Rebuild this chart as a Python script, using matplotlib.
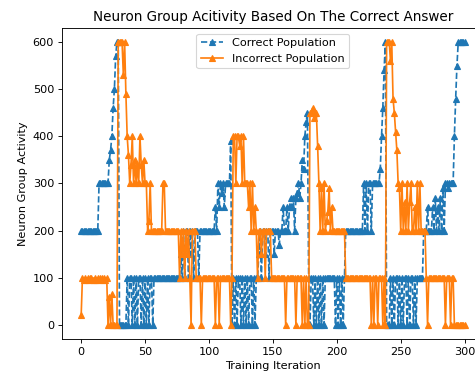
import numpy as np
import matplotlib
matplotlib.use("Agg")
import matplotlib.pyplot as plt

# Activity of each neuron group per training iteration (0..300)
iterations = list(range(301))

correct_population = [
    200, 200, 200, 200, 200, 200, 200, 200, 200, 200,
    200, 200, 200, 200, 300, 300, 300, 300, 300, 300,
    300, 300, 350, 370, 400, 460, 500, 570, 600, 600,
    0, 0, 0, 0, 0, 0, 100, 0, 100, 100,
    0, 100, 0, 100, 0, 100, 100, 0, 100, 0,
    100, 0, 100, 0, 100, 100, 0, 100, 100, 100,
    100, 100, 100, 100, 100, 100, 100, 100, 100, 100,
    100, 100, 100, 100, 100, 100, 100, 100, 150, 100,
    200, 100, 200, 200, 100, 200, 150, 200, 100, 200,
    200, 200, 100, 200, 200, 200, 200, 200, 200, 200,
    200, 200, 200, 200, 200, 250, 200, 300, 250, 300,
    280, 300, 250, 300, 300, 300, 300, 390, 0, 100,
    0, 100, 0, 100, 100, 0, 100, 0, 100, 0,
    100, 0, 100, 100, 0, 100, 0, 100, 100, 150,
    200, 100, 200, 200, 150, 200, 200, 100, 200, 200,
    200, 150, 200, 200, 200, 170, 200, 200, 250, 200,
    200, 250, 200, 250, 270, 250, 270, 200, 270, 280,
    300, 270, 300, 350, 330, 400, 430, 450, 100, 0,
    100, 100, 0, 100, 0, 100, 0, 100, 0, 100,
    0, 100, 100, 100, 100, 100, 100, 100, 100, 0,
    100, 0, 100, 0, 100, 0, 100, 200, 200, 200,
    200, 200, 200, 200, 200, 200, 200, 200, 200, 200,
    200, 300, 200, 300, 200, 300, 300, 200, 300, 300,
    300, 300, 300, 300, 330, 400, 460, 540, 600, 0,
    0, 0, 100, 0, 100, 0, 100, 100, 0, 100,
    0, 100, 0, 100, 100, 0, 100, 0, 100, 100,
    0, 100, 0, 100, 100, 100, 100, 100, 200, 200,
    200, 250, 200, 200, 200, 250, 200, 270, 200, 250,
    200, 270, 200, 290, 200, 300, 300, 290, 300, 300,
    300, 300, 400, 480, 550, 600, 600, 600, 600, 600,
    600,
]

incorrect_population = [
    20, 100, 95, 100, 95, 100, 95, 100, 100, 95,
    95, 100, 95, 100, 95, 100, 100, 95, 100, 95,
    100, 0, 60, 0, 65, 0, 0, 0, 0, 600,
    600, 600, 600, 530, 600, 490, 400, 360, 300, 340,
    400, 300, 350, 300, 340, 300, 400, 340, 300, 350,
    300, 300, 200, 220, 300, 200, 200, 200, 200, 200,
    200, 200, 200, 200, 300, 300, 200, 200, 200, 200,
    200, 200, 200, 200, 200, 200, 200, 100, 200, 150,
    200, 100, 200, 150, 200, 100, 0, 200, 200, 200,
    100, 100, 100, 100, 0, 100, 100, 100, 100, 100,
    100, 100, 100, 100, 100, 0, 100, 100, 0, 100,
    100, 100, 100, 100, 100, 100, 100, 0, 100, 400,
    400, 300, 400, 400, 380, 400, 300, 400, 300, 300,
    300, 250, 300, 200, 300, 200, 250, 200, 100, 200,
    200, 150, 200, 200, 100, 200, 200, 200, 200, 100,
    100, 100, 100, 100, 100, 100, 100, 100, 100, 100,
    0, 100, 100, 100, 100, 100, 100, 100, 0, 100,
    100, 100, 100, 0, 100, 0, 100, 0, 0, 450,
    450, 460, 440, 450, 450, 380, 300, 200, 290, 200,
    300, 200, 220, 240, 290, 200, 250, 200, 200, 200,
    200, 200, 200, 200, 200, 200, 200, 100, 100, 100,
    100, 100, 100, 100, 100, 100, 100, 100, 100, 100,
    100, 100, 100, 100, 100, 100, 100, 0, 100, 0,
    100, 100, 0, 100, 100, 100, 0, 100, 0, 600,
    600, 600, 560, 600, 480, 450, 410, 370, 300, 290,
    200, 300, 200, 260, 200, 300, 200, 260, 300, 200,
    200, 250, 200, 300, 200, 300, 200, 200, 200, 200,
    100, 0, 100, 100, 100, 100, 100, 100, 100, 100,
    100, 100, 100, 100, 100, 0, 100, 100, 100, 0,
    100, 100, 0, 0, 0, 0, 0, 0, 0, 0,
    0,
]

fig = plt.figure(figsize=(475 / 81, 377 / 81), dpi=81)
ax = fig.add_axes([0.1305, 0.1008, 0.888, 0.825])

ax.plot(iterations, correct_population, linestyle="--", marker="^", label="Correct Population")
ax.plot(iterations, incorrect_population, linestyle="-", marker="^", label="Incorrect Population")

ax.set_title("Neuron Group Acitivity Based On The Correct Answer")
ax.set_xlabel("Training Iteration")
ax.set_ylabel("Neuron Group Activity")
ax.legend(loc="upper center")

fig.savefig("out.png", dpi=81)
